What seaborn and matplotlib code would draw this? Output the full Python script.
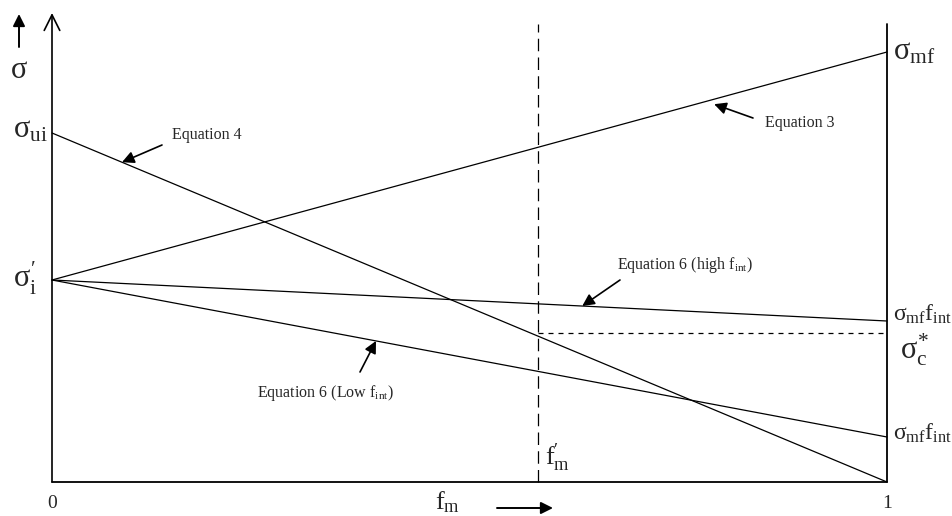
import matplotlib
matplotlib.use("Agg")
import matplotlib.pyplot as plt
from matplotlib.transforms import Affine2D
import numpy as np
import pandas as pd
import seaborn as sns

# Stress vs. matrix volume fraction (schematic)
fm = [0.0, 1.0]
eq3 = [202, 430]        # Equation 3: sigma_i' -> sigma_mf
eq4 = [349, 0]          # Equation 4: sigma_ui -> 0
eq6_high = [202, 161]   # Equation 6 (high f_int)
eq6_low = [202, 45]     # Equation 6 (low f_int)
fm_prime = 0.582
sigma_c_star = 149
y_top = 469
right_top = 458

sns.set_theme(style="white")
plt.rcParams["font.family"] = ["Liberation Serif", "DejaVu Serif"]
plt.rcParams["mathtext.fontset"] = "custom"
plt.rcParams["mathtext.rm"] = "Liberation Serif"
plt.rcParams["mathtext.it"] = "Liberation Serif"
plt.rcParams["mathtext.bf"] = "Liberation Serif:bold"

W, H = 952, 516
fig = plt.figure(figsize=(W / 100, H / 100), dpi=100)
ax = fig.add_axes([52 / W, 34 / H, 835 / W, 469 / H])
ax.set_xlim(0, 1)
ax.set_ylim(0, y_top)
ax.axis("off")

# pixel-space transform (origin top-left)
pix = Affine2D().scale(1 / W, -1 / H).translate(0, 1) + fig.transFigure

df = pd.DataFrame({
    "fm": fm * 4,
    "sigma": eq3 + eq4 + eq6_high + eq6_low,
    "eq": ["Equation 3"] * 2 + ["Equation 4"] * 2
          + ["Equation 6 (high)"] * 2 + ["Equation 6 (low)"] * 2,
})
sns.lineplot(data=df, x="fm", y="sigma", hue="eq", palette=["black"] * 4,
             legend=False, lw=0.9, ax=ax, clip_on=False)

# axes frame: bottom line, right line, left arrow axis
ax.plot([0, 1], [0, 0], color="black", lw=1.3, clip_on=False)
ax.plot([1, 1], [0, right_top], color="black", lw=1.3, clip_on=False)
ax.annotate("", xy=(0, y_top), xytext=(0, 0), xycoords="data",
            arrowprops=dict(arrowstyle="->,head_length=0.7,head_width=0.35",
                            lw=1.2, color="black", mutation_scale=16,
                            shrinkA=0, shrinkB=0), annotation_clip=False)

# dashed guides
ax.plot([fm_prime, fm_prime], [0, right_top], color="black", lw=0.9,
        ls=(0, (10, 5)), clip_on=False)
ax.plot([fm_prime, 1], [sigma_c_star, sigma_c_star], color="black", lw=0.9,
        ls=(0, (4, 4)), clip_on=False)


def on_line(vals, x):
    return vals[0] + (vals[1] - vals[0]) * x


arrow_kw = dict(arrowstyle="-|>,head_length=0.6,head_width=0.3", lw=1.2,
                color="black", mutation_scale=12, shrinkA=0, shrinkB=0)

# equation callouts
ax.annotate("", xy=(0.0838, on_line(eq4, 0.0838)), xytext=(162, 145),
            textcoords=pix, arrowprops=arrow_kw, annotation_clip=False)
fig.text(172, 135, "Equation 4", transform=pix, fontsize=11.5,
         ha="left", va="center")

ax.annotate("", xy=(0.793, on_line(eq3, 0.793) - 5), xytext=(753, 118),
            textcoords=pix, arrowprops=arrow_kw, annotation_clip=False)
fig.text(765, 123, "Equation 3", transform=pix, fontsize=11.5,
         ha="left", va="center")

ax.annotate("", xy=(0.635, on_line(eq6_high, 0.635)), xytext=(620, 280),
            textcoords=pix, arrowprops=arrow_kw, annotation_clip=False)
fig.text(617, 265, r"Equation 6 (high f$_{\mathrm{int}}$)", transform=pix,
         fontsize=11.5, ha="left", va="center")

ax.annotate("", xy=(0.388, on_line(eq6_low, 0.388)), xytext=(360, 372),
            textcoords=pix, arrowprops=arrow_kw, annotation_clip=False)
fig.text(257, 393, r"Equation 6 (Low f$_{\mathrm{int}}$)", transform=pix,
         fontsize=11.5, ha="left", va="center")

# stress labels
big = 22
fig.text(19, 70, r"$\sigma$", transform=pix, fontsize=big, ha="center", va="center")
ax.annotate("", xy=(19, 14), xytext=(19, 47), xycoords=pix, textcoords=pix,
            arrowprops=dict(arrowstyle="-|>,head_length=0.6,head_width=0.3",
                            lw=1.4, color="black", mutation_scale=12,
                            shrinkA=0, shrinkB=0), annotation_clip=False)
fig.text(13, 130, r"$\sigma_{\mathrm{ui}}$", transform=pix, fontsize=big,
         ha="left", va="center")
fig.text(13, 278, "$\\sigma^{\u2032}_{\\mathrm{i}}$", transform=pix, fontsize=big,
         ha="left", va="center")
fig.text(893, 52, r"$\sigma_{\mathrm{mf}}$", transform=pix, fontsize=big,
         ha="left", va="center")
fig.text(893, 314, r"$\sigma_{\mathrm{mf}}\mathrm{f}_{\mathrm{int}}$", transform=pix,
         fontsize=17, ha="left", va="center")
fig.text(900, 350, r"$\sigma_{\mathrm{c}}^{*}$", transform=pix, fontsize=big,
         ha="left", va="center")
fig.text(893, 433, r"$\sigma_{\mathrm{mf}}\mathrm{f}_{\mathrm{int}}$", transform=pix,
         fontsize=17, ha="left", va="center")

# f_m labels
fig.text(52, 503, "0", transform=pix, fontsize=14, ha="center", va="center")
fig.text(887, 503, "1", transform=pix, fontsize=14, ha="center", va="center")
fig.text(448, 502, r"$\mathrm{f}_{\mathrm{m}}$", transform=pix, fontsize=19,
         ha="center", va="center")
ax.annotate("", xy=(553, 508), xytext=(497, 508), xycoords=pix, textcoords=pix,
            arrowprops=dict(arrowstyle="-|>,head_length=0.6,head_width=0.3",
                            lw=1.4, color="black", mutation_scale=12,
                            shrinkA=0, shrinkB=0), annotation_clip=False)
fig.text(545, 458, "$\\mathrm{f}^{\u2032}_{\\mathrm{m}}$", transform=pix,
         fontsize=19, ha="left", va="center")

fig.savefig("out.png", dpi=100)
